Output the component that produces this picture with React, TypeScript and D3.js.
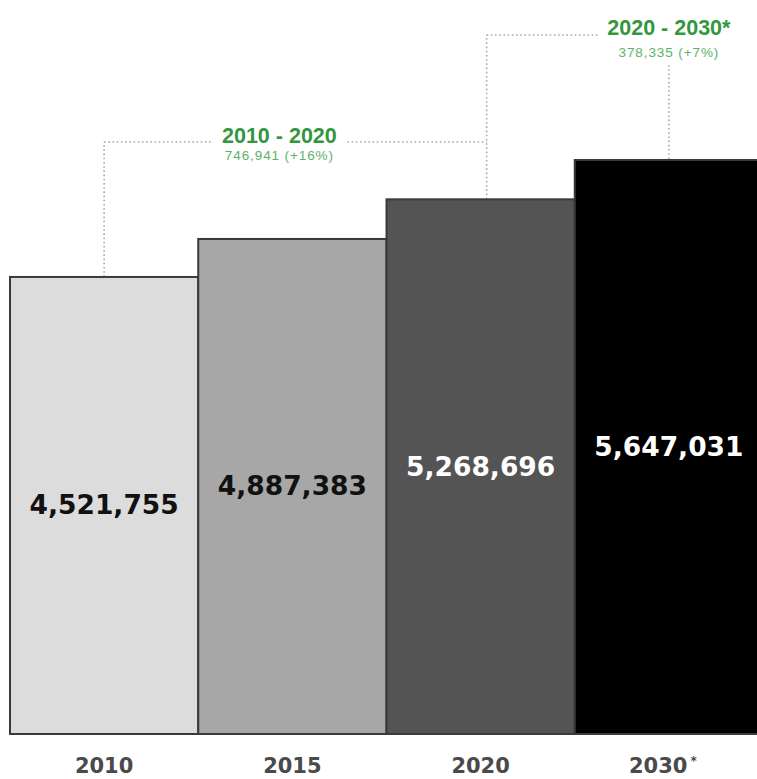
import React from "react";
import * as d3 from "d3";

const years = ["2010", "2015", "2020", "2030"];
const yearSuffix = ["", "", "", "*"];
const values = [4521755, 4887383, 5268696, 5647031];
const barColors = ["#dcdcdc", "#a7a7a7", "#545454", "#000000"];
const labelColors = ["#111111", "#111111", "#ffffff", "#ffffff"];

const bracketFrom = ["2010", "2020"];
const bracketTo = ["2020", "2030"];
const bracketTitles = ["2010 - 2020", "2020 - 2030*"];
const bracketSubs = ["746,941 (+16%)", "378,335 (+7%)"];

const W = 757;
const H = 779;
const fmt = d3.format(",");

export default function App() {
  const x = d3.scaleBand<string>().domain(years).range([10, 763]).paddingInner(0).paddingOuter(0);
  const y = d3.scaleLinear().domain([0, d3.max(values) as number]).range([747, 160]);
  const base = 734;
  const cx = (k: string) => (x(k) as number) + x.bandwidth() / 2;
  const top = (k: string) => y(values[years.indexOf(k)]);
  const dot = { stroke: "#a8a8a8", strokeWidth: 1.6, strokeDasharray: "1.6,2.6", fill: "none" } as const;
  const green = "#34963f";
  const lightGreen = "#5bb267";

  // bracket 1 geometry
  const b1x0 = cx(bracketFrom[0]);
  const b1x1 = cx(bracketTo[0]) + 6;
  const b1y = 142;
  const b1tx = (b1x0 + b1x1) / 2 - 16;
  // bracket 2 geometry
  const b2x0 = cx(bracketFrom[1]) + 6;
  const b2x1 = cx(bracketTo[1]);
  const b2y = 35;

  return (
    <svg width={W} height={H} style={{ position: "absolute", left: 0, top: 0, background: "#fff" }}>
      {/* dotted brackets */}
      <g>
        <line x1={b1x0} x2={b1x0} y1={top(bracketFrom[0])} y2={b1y} style={dot} />
        <line x1={b1x0} x2={b1tx - 66} y1={b1y} y2={b1y} style={dot} />
        <line x1={b1tx + 68} x2={b1x1} y1={b1y} y2={b1y} style={dot} />
        <line x1={b2x0} x2={b2x0} y1={top(bracketFrom[1])} y2={b2y} style={dot} />
        <line x1={b2x0} x2={b2x1 - 70} y1={b2y} y2={b2y} style={dot} />
        <line x1={b2x1} x2={b2x1} y1={65} y2={top(bracketTo[1])} style={dot} />
      </g>
      <g fontFamily="'Liberation Sans', Arial, sans-serif" textAnchor="middle">
        <text x={b1tx} y={b1y + 1} fontSize={21.5} fontWeight="bold" fill={green}>{bracketTitles[0]}</text>
        <text x={b1tx} y={160} fontSize={13.5} fill={lightGreen} letterSpacing={0.9}>{bracketSubs[0]}</text>
        <text x={b2x1} y={b2y} fontSize={21.5} fontWeight="bold" fill={green}>{bracketTitles[1]}</text>
        <text x={b2x1} y={57} fontSize={13.5} fill={lightGreen} letterSpacing={0.9}>{bracketSubs[1]}</text>
      </g>
      {/* bars */}
      <g>
        {years.map((k, i) => (
          <rect
            key={k}
            x={x(k)}
            y={y(values[i])}
            width={x.bandwidth()}
            height={base - y(values[i])}
            fill={barColors[i]}
            stroke="#3a3a3a"
            strokeWidth={2}
          />
        ))}
      </g>
      <g fontFamily="'DejaVu Sans', sans-serif" fontWeight="bold" textAnchor="middle">
        {years.map((k, i) => (
          <text
            key={k}
            x={cx(k)}
            y={(y(values[i]) + base) / 2 + 9}
            fontSize={26.5}
            fill={labelColors[i]}
          >
            {fmt(values[i])}
          </text>
        ))}
      </g>
      <g fontFamily="'DejaVu Sans', sans-serif" fontWeight="bold" textAnchor="middle" fill="#4a4a4a">
        {years.map((k, i) => (
          <text key={k} x={cx(k) - (yearSuffix[i] ? 6 : 0)} y={773} fontSize={21}>
            {k}
            {yearSuffix[i] ? (
              <tspan fontSize={12} dy={-8} dx={3}>{yearSuffix[i]}</tspan>
            ) : null}
          </text>
        ))}
      </g>
    </svg>
  );
}
